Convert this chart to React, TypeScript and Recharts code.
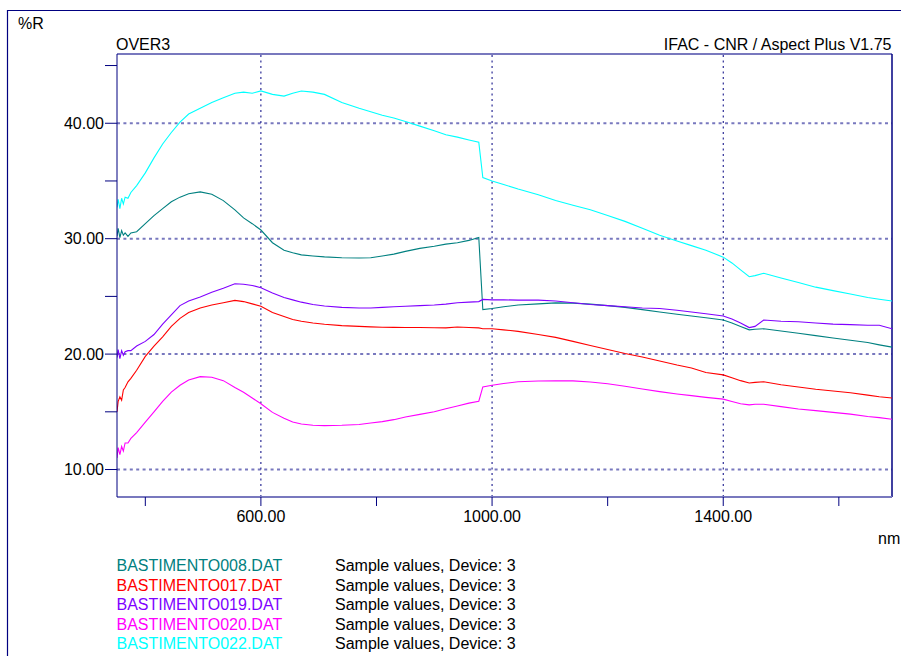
import React from 'react';
import { LineChart, Line, XAxis, YAxis, ReferenceLine } from 'recharts';

// Wavelength grid (nm) shared by all spectra
const wavelengths = [
  351, 353, 356, 359, 362, 365, 370, 375, 385, 400, 415, 430, 445, 460, 475, 495, 515, 535, 555, 570,
  585, 600, 620, 640, 655, 670, 690, 710, 740, 770, 790, 810, 830, 850, 875, 900, 920, 940, 960, 977,
  984, 1000, 1020, 1045, 1080, 1110, 1140, 1170, 1200, 1230, 1260, 1290, 1320, 1345, 1370, 1400, 1415,
  1430, 1445, 1455, 1470, 1500, 1530, 1560, 1590, 1620, 1650, 1670, 1692,
];

// Reflectance (%R) per sample file
const b008 = [
  30.2, 30.9, 30.1, 30.7, 30.3, 30.5, 30.2, 30.5, 30.6, 31.3, 32.0, 32.6, 33.2, 33.6, 33.9, 34.05, 33.85, 33.3, 32.5, 31.8,
  31.3, 30.75, 29.65, 29.0, 28.78, 28.6, 28.5, 28.42, 28.35, 28.33, 28.35, 28.5, 28.66, 28.9, 29.16, 29.35, 29.53, 29.65, 29.85, 30.1,
  23.85, 23.95, 24.1, 24.25, 24.35, 24.44, 24.42, 24.33, 24.2, 24.05, 23.85, 23.65, 23.45, 23.3, 23.15, 22.95, 22.7,
  22.4, 22.1, 22.15, 22.2, 22.0, 21.8, 21.6, 21.4, 21.2, 21.0, 20.8, 20.6,
];
const b017 = [
  15.0, 15.9, 16.3, 16.0, 16.9, 17.1, 17.6, 17.9, 18.6, 19.8, 20.7, 21.5, 22.4, 23.1, 23.6, 24.0, 24.25, 24.45, 24.65, 24.55,
  24.35, 24.15, 23.6, 23.25, 23.0, 22.85, 22.7, 22.58, 22.47, 22.4, 22.36, 22.33, 22.32, 22.3, 22.3, 22.28, 22.27, 22.35, 22.3, 22.27,
  22.2, 22.2, 22.1, 21.97, 21.7, 21.45, 21.1, 20.75, 20.4, 20.05, 19.75, 19.4, 19.05, 18.8, 18.4, 18.2, 17.95,
  17.7, 17.5, 17.55, 17.6, 17.35, 17.15, 16.95, 16.8, 16.65, 16.45, 16.3, 16.2,
];
const b019 = [
  19.7, 20.4, 19.6, 20.3, 19.9, 20.2, 20.3, 20.3, 20.7, 21.1, 21.7, 22.6, 23.4, 24.2, 24.6, 24.95, 25.35, 25.7, 26.1, 26.05,
  25.95, 25.75, 25.3, 24.9, 24.7, 24.5, 24.3, 24.17, 24.05, 24.0, 24.0, 24.05, 24.1, 24.15, 24.2, 24.25, 24.33, 24.45, 24.5, 24.55,
  24.74, 24.7, 24.7, 24.68, 24.68, 24.6, 24.45, 24.3, 24.2, 24.1, 24.0, 23.95, 23.8, 23.65, 23.5, 23.3, 23.05,
  22.7, 22.3, 22.4, 22.95, 22.85, 22.8, 22.7, 22.6, 22.55, 22.5, 22.5, 22.2,
];
const b020 = [
  11.0, 11.9, 11.3, 12.0, 11.6, 12.3, 12.3, 12.7, 13.2, 14.1, 15.0, 15.9, 16.7, 17.3, 17.75, 18.05, 18.0, 17.7, 17.1, 16.7,
  16.2, 15.7, 14.95, 14.45, 14.12, 13.95, 13.83, 13.8, 13.83, 13.9, 14.03, 14.15, 14.32, 14.55, 14.78, 15.0, 15.27, 15.5, 15.75, 15.92,
  17.16, 17.3, 17.45, 17.6, 17.67, 17.68, 17.68, 17.58, 17.43, 17.22, 16.98, 16.75, 16.55, 16.4, 16.25, 16.1, 15.9,
  15.7, 15.6, 15.65, 15.65, 15.45, 15.25, 15.1, 14.95, 14.8, 14.6, 14.5, 14.35,
];
const b022 = [
  32.7, 33.4, 32.6, 33.5, 33.0, 33.6, 33.5, 34.0, 34.6, 35.7, 37.0, 38.2, 39.2, 40.1, 40.8, 41.3, 41.8, 42.2, 42.6, 42.7,
  42.6, 42.8, 42.5, 42.35, 42.6, 42.8, 42.7, 42.5, 41.8, 41.3, 41.0, 40.7, 40.45, 40.15, 39.75, 39.35, 39.0, 38.8, 38.55, 38.35,
  35.3, 35.0, 34.7, 34.3, 33.8, 33.3, 32.9, 32.5, 32.0, 31.5, 30.9, 30.3, 29.8, 29.4, 29.0, 28.4, 27.9,
  27.3, 26.7, 26.8, 27.0, 26.6, 26.2, 25.8, 25.5, 25.2, 24.9, 24.75, 24.6,
];

const seriesNames = [
  'BASTIMENTO008.DAT',
  'BASTIMENTO017.DAT',
  'BASTIMENTO019.DAT',
  'BASTIMENTO020.DAT',
  'BASTIMENTO022.DAT',
];
const seriesColors = ['#008080', '#ff0000', '#8000ff', '#ff00ff', '#00ffff'];
const seriesValues = [b008, b017, b019, b020, b022];
const seriesDescription = 'Sample values, Device: 3';

const xTicks = [400, 600, 800, 1000, 1200, 1400, 1600];
const xLabelled = [600, 1000, 1400];
const yTicks = [10, 15, 20, 25, 30, 35, 40, 45];
const yLabelled = [10, 20, 30, 40];
const xDomain: [number, number] = [351, 1692];
const yDomain: [number, number] = [7.62, 46.0];

const data = wavelengths.map((nm, i) => {
  const row: Record<string, number> = { nm };
  seriesNames.forEach((name, s) => {
    row[name] = seriesValues[s][i];
  });
  return row;
});

const NAVY = '#000080';
const LAVENDER = '#7878be';
const FONT = '"Liberation Sans", Arial, sans-serif';
const FS = 16;

export default function App() {
  return (
    <div style={{ position: 'absolute', left: 0, top: 0, width: 901, height: 656, background: '#fff', fontFamily: FONT }}>
      <LineChart
        width={901}
        height={656}
        data={data}
        margin={{ top: 54, right: 9, bottom: 119, left: 17 }}
      >
        <XAxis
          dataKey="nm"
          type="number"
          domain={xDomain}
          ticks={xTicks}
          allowDataOverflow
          height={40}
          tickSize={9}
          tickMargin={5}
          axisLine={{ stroke: LAVENDER, strokeWidth: 2 }}
          tickLine={{ stroke: NAVY, strokeWidth: 1 }}
          tick={{ fill: '#000', fontSize: FS, fontFamily: FONT }}
          tickFormatter={(v: number) => (xLabelled.includes(v) ? v.toFixed(2) : '')}
        />
        <YAxis
          type="number"
          domain={yDomain}
          ticks={yTicks}
          allowDataOverflow
          width={100}
          tickSize={12}
          tickMargin={1}
          axisLine={{ stroke: NAVY, strokeWidth: 1 }}
          tickLine={{ stroke: NAVY, strokeWidth: 1 }}
          tick={{ fill: '#000', fontSize: FS, fontFamily: FONT }}
          tickFormatter={(v: number) => (yLabelled.includes(v) ? v.toFixed(2) : '')}
        />
        {yLabelled.map((v) => (
          <ReferenceLine key={'h' + v} y={v} stroke={LAVENDER} strokeWidth={2} strokeDasharray="3 3.4" />
        ))}
        {xLabelled.map((v) => (
          <ReferenceLine key={'v' + v} x={v} stroke={NAVY} strokeWidth={1} strokeDasharray="2 3.5" />
        ))}
        <ReferenceLine y={yDomain[1]} stroke={LAVENDER} strokeWidth={2} />
        <ReferenceLine x={xDomain[1]} stroke={NAVY} strokeWidth={1.5} />
        {seriesNames.map((name, s) => (
          <Line
            key={name}
            type="linear"
            dataKey={name}
            stroke={seriesColors[s]}
            strokeWidth={1.1}
            dot={false}
            activeDot={false}
            isAnimationActive={false}
          />
        ))}
      </LineChart>
      <svg
        width={901}
        height={656}
        style={{ position: 'absolute', left: 0, top: 0, pointerEvents: 'none' }}
        fontFamily={FONT}
        fontSize={FS}
      >
        <line x1={7.5} y1={10} x2={7.5} y2={656} stroke={NAVY} strokeWidth={1.2} />
        <line x1={7} y1={10.5} x2={901} y2={10.5} stroke={NAVY} strokeWidth={1.2} />
        <text x={18} y={29} fill="#000">%R</text>
        <text x={116} y={50} fill="#000">OVER3</text>
        <text x={891.5} y={50} fill="#000" textAnchor="end">IFAC - CNR / Aspect Plus V1.75</text>
        <text x={878} y={544} fill="#000">nm</text>
        {seriesNames.map((name, s) => (
          <g key={name}>
            <text x={116.5} y={571 + s * 19.6} fill={seriesColors[s]}>{name}</text>
            <text x={335} y={571 + s * 19.6} fill="#000">{seriesDescription}</text>
          </g>
        ))}
      </svg>
    </div>
  );
}
